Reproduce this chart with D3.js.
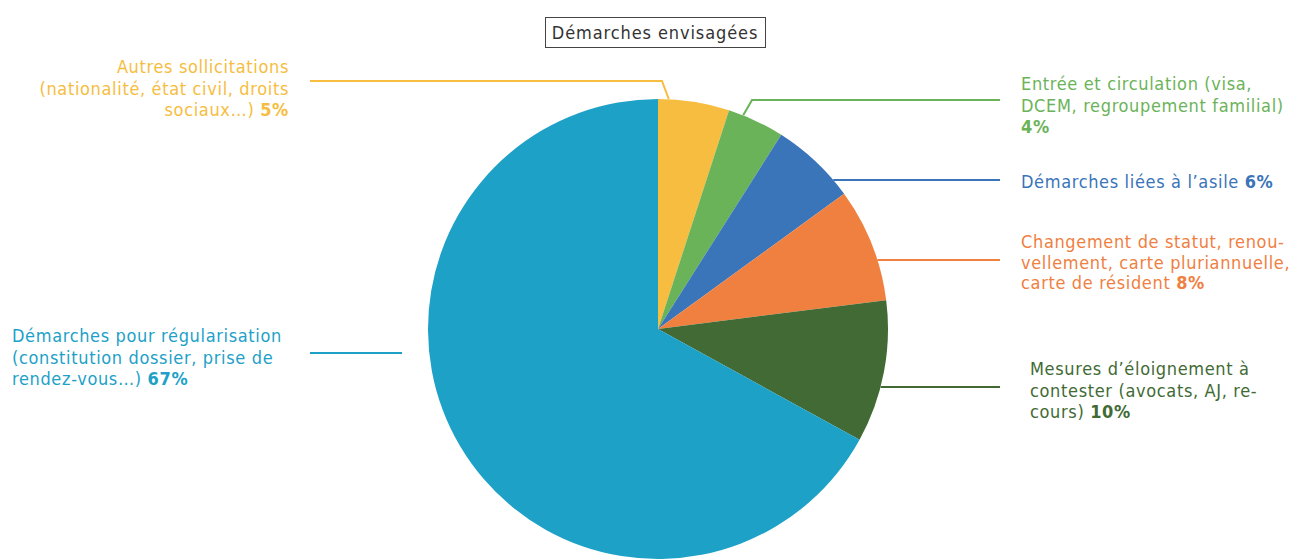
<!DOCTYPE html>
<html>
<head>
<meta charset="utf-8">
<script src="https://cdn.jsdelivr.net/npm/d3@7"></script>
<style>
  html, body { margin: 0; padding: 0; background: #fff; }
  svg { display: block; }
  text { font-family: "Liberation Sans Narrow", "DejaVu Sans Condensed", "Roboto", sans-serif; }
</style>
</head>
<body>
<svg id="chart" width="1290" height="559"></svg>
<script>
// Chart data
const title = "Démarches envisagées";
const categories = [
  "Autres sollicitations",
  "Entrée et circulation",
  "Démarches liées à l'asile",
  "Changement de statut",
  "Mesures d'éloignement",
  "Démarches pour régularisation"
];
const values = [5, 4, 6, 8, 10, 67];
const colors = ["#F6BD40", "#6BB359", "#3A74B9", "#F0803F", "#416A34", "#1DA1C7"];
// Label lines (the percentage is appended in bold to the last line)
const labelLines = [
  ["Autres sollicitations", "(nationalité, état civil, droits", "sociaux…)"],
  ["Entrée et circulation (visa,", "DCEM, regroupement familial)", ""],
  ["Démarches liées à l’asile"],
  ["Changement de statut, renou-", "vellement, carte pluriannuelle,", "carte de résident"],
  ["Mesures d’éloignement à", "contester (avocats, AJ, re-", "cours)"],
  ["Démarches pour régularisation", "(constitution dossier, prise de", "rendez-vous…)"]
];

// Layout
const width = 1290, height = 559;
const cx = 658, cy = 329, radius = 230;
const fontSize = 18, lineH = 21.5, spacing = 0.65;
// label placement: anchor x, first baseline y, text-anchor, leader style
// rimFrac: where (as a fraction of the slice) an elbow leader meets the rim
const labelLayout = [
  { x: 289, y: 73, anchor: "end", leader: "elbow", lineY: 81, lineX: 310, rimFrac: 0.15, elbowX: 662 },
  { x: 1021, y: 90, anchor: "start", leader: "elbow", lineY: 100, lineX: 1000, rimFrac: 0.26, elbowX: 752 },
  { x: 1021, y: 188, anchor: "start", leader: "rim", lineY: 180, lineX: 1000 },
  { x: 1021, y: 248, anchor: "start", leader: "rim", lineY: 260, lineX: 1000, lineH: 20.5 },
  { x: 1030, y: 375, anchor: "start", leader: "rim", lineY: 387, lineX: 1000 },
  { x: 12, y: 342, anchor: "start", leader: "free", lineY: 353, lineX: 310, endX: 402 }
];

const svg = d3.select("#chart");

// Pie
const pie = d3.pie().sort(null).value(d => d)(values);
const arc = d3.arc().innerRadius(0).outerRadius(radius);
const g = svg.append("g").attr("transform", `translate(${cx},${cy})`);
g.selectAll("path.slice")
  .data(pie)
  .join("path")
  .attr("class", "slice")
  .attr("d", arc)
  .attr("fill", (d, i) => colors[i]);

// Leader lines
const leaders = svg.append("g").attr("fill", "none").attr("stroke-width", 2);
labelLayout.forEach((L, i) => {
  let pts;
  if (L.leader === "elbow") {
    const a = pie[i].startAngle + (pie[i].endAngle - pie[i].startAngle) * L.rimFrac;
    const px = cx + radius * Math.sin(a), py = cy - radius * Math.cos(a);
    pts = [[L.lineX, L.lineY], [L.elbowX, L.lineY], [px, py]];
  } else if (L.leader === "rim") {
    const dy = L.lineY - cy;
    const px = cx + Math.sqrt(radius * radius - dy * dy);
    pts = [[L.lineX, L.lineY], [px, L.lineY]];
  } else {
    pts = [[L.lineX, L.lineY], [L.endX, L.lineY]];
  }
  leaders.append("path")
    .attr("d", d3.line()(pts))
    .attr("stroke", colors[i]);
});

// Labels
const labels = svg.append("g").attr("font-size", fontSize).attr("letter-spacing", spacing);
labelLayout.forEach((L, i) => {
  const lines = labelLines[i];
  const lh = L.lineH || lineH;
  const t = labels.append("text")
    .attr("text-anchor", L.anchor)
    .attr("fill", colors[i]);
  lines.forEach((line, k) => {
    const y = L.y + k * lh;
    const last = k === lines.length - 1;
    if (line.length) {
      t.append("tspan").attr("x", L.x).attr("y", y).text(last ? line + " " : line);
    }
    if (last) {
      const pct = t.append("tspan").attr("font-weight", "bold").text(values[i] + "%");
      if (!line.length) pct.attr("x", L.x).attr("y", y);
    }
  });
});

// Title box
const titleG = svg.append("g");
titleG.append("rect")
  .attr("x", 545.5).attr("y", 17.5)
  .attr("width", 220).attr("height", 30)
  .attr("fill", "#fff")
  .attr("stroke", "#444")
  .attr("stroke-width", 1);
titleG.append("text")
  .attr("x", 655).attr("y", 39)
  .attr("text-anchor", "middle")
  .attr("font-size", 18)
  .attr("letter-spacing", 0.9)
  .attr("fill", "#333")
  .text(title);
</script>
</body>
</html>
